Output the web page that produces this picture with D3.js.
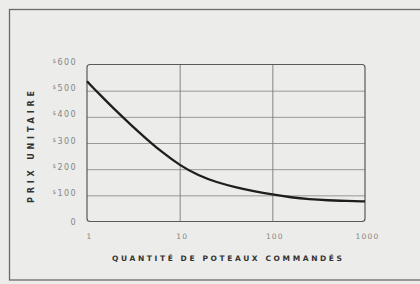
<!DOCTYPE html>
<html><head><meta charset="utf-8">
<script src="https://cdn.jsdelivr.net/npm/d3@7"></script>
<style>
html,body{margin:0;padding:0;background:#ececea;}
svg{display:block;}
</style></head>
<body>
<script>
const quantities = [1, 1.4, 2, 3, 4.5, 6.5, 10, 16, 25, 40, 63, 100, 160, 250, 400, 630, 1000];
const prices     = [536, 482, 427, 368, 312, 264, 215, 175, 150, 131, 116, 103, 92, 85, 81, 78.5, 77];
const xTicks = [1, 10, 100, 1000];
const xTickLabels = ["1", "10", "100", "1000"];
const yTicks = [0, 100, 200, 300, 400, 500, 600];
const yTickLabels = ["0", "$100", "$200", "$300", "$400", "$500", "$600"];
const xTitle = "QUANTITÉ DE POTEAUX COMMANDÉS";
const yTitle = "PRIX UNITAIRE";

const W = 420, H = 284;
const svg = d3.select("body").append("svg").attr("width", W).attr("height", H);
svg.append("rect").attr("width", W).attr("height", H).attr("fill", "#ececea");

// outer frame
svg.append("rect").attr("x", 9.5).attr("y", 9.5).attr("width", 430).attr("height", 270.5)
  .attr("fill", "none").attr("stroke", "#6a6a6a").attr("stroke-width", 1.3);

const L = 87, R = 365, T = 64.5, B = 221.5;
const x = d3.scaleLog().domain([1, 1000]).range([L, R]);
const y = d3.scaleLinear().domain([0, 600]).range([B, T]);

// horizontal gridlines
const gy = d3.axisLeft(y).tickValues(yTicks.slice(1, -1)).tickSize(-(R - L)).tickFormat("");
const gyG = svg.append("g").attr("transform", `translate(${L},0)`).call(gy);
gyG.select(".domain").remove();
gyG.selectAll("line").attr("stroke", "#8f8f8f").attr("stroke-width", 0.9);

// vertical gridlines
const gx = d3.axisBottom(x).tickValues(xTicks.slice(1, -1)).tickSize(-(B - T)).tickFormat("");
const gxG = svg.append("g").attr("transform", `translate(0,${B})`).call(gx);
gxG.select(".domain").remove();
gxG.selectAll("line").attr("stroke", "#7a7a7a").attr("stroke-width", 0.9);

// plot border (rounded)
svg.append("rect").attr("x", L).attr("y", T).attr("width", R - L).attr("height", B - T)
  .attr("rx", 3).attr("fill", "none").attr("stroke", "#5a5a5a").attr("stroke-width", 1.2);

// y tick labels
const yAx = d3.axisLeft(y).tickValues(yTicks).tickSize(0).tickPadding(10)
  .tickFormat((d, i) => yTickLabels[i]);
const yG = svg.append("g").attr("transform", `translate(${L},0)`).call(yAx);
yG.select(".domain").remove();
yG.selectAll("text").attr("fill", "#858585").style("font-family", "DejaVu Sans")
  .style("font-size", "8px").style("letter-spacing", "1.4px")
  .each(function(d, i) {
    const t = d3.select(this); const s = yTickLabels[i];
    t.text(null);
    if (s[0] === "$") {
      t.append("tspan").text("$").style("font-size", "5.5px").attr("dy", "-2");
      t.append("tspan").text(s.slice(1)).attr("dy", "2");
    } else t.text(s);
  });

// x tick labels
const xAx = d3.axisBottom(x).tickValues(xTicks).tickSize(0).tickPadding(12)
  .tickFormat((d, i) => xTickLabels[i]);
const xG = svg.append("g").attr("transform", `translate(2,${B})`).call(xAx);
xG.select(".domain").remove();
xG.selectAll("text").attr("fill", "#858585").style("font-family", "DejaVu Sans")
  .style("font-size", "7.5px").style("letter-spacing", "1.2px");

// curve
const line = d3.line().x((d, i) => x(quantities[i])).y(d => y(d)).curve(d3.curveBasis);
svg.append("path").attr("d", line(prices)).attr("fill", "none")
  .attr("stroke", "#1e1e1e").attr("stroke-width", 2.3);

// titles
svg.append("text").attr("x", 227).attr("y", 261).attr("text-anchor", "middle")
  .attr("fill", "#333").style("font-family", "DejaVu Sans").style("font-size", "7.5px")
  .style("font-weight", "bold")
  .attr("textLength", 230).attr("lengthAdjust", "spacing").text(xTitle);
svg.append("text").attr("transform", "translate(34,147) rotate(-90)").attr("text-anchor", "middle")
  .attr("fill", "#333").style("font-family", "DejaVu Sans").style("font-size", "8px")
  .style("font-weight", "bold")
  .attr("textLength", 112).attr("lengthAdjust", "spacing").text(yTitle);
</script>
</body></html>
